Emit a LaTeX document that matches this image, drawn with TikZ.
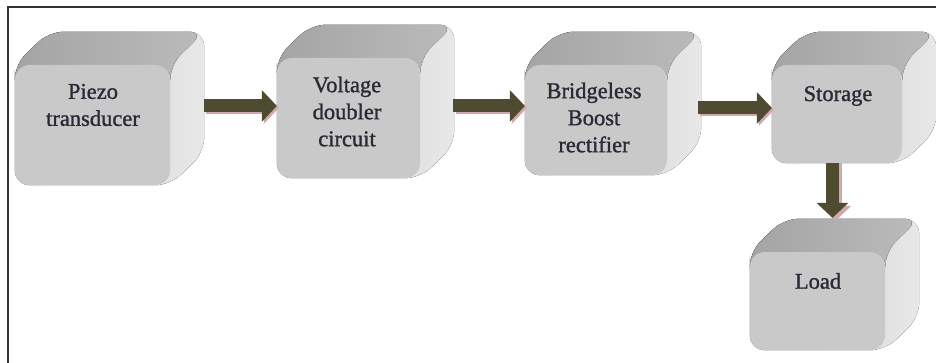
\documentclass[tikz,border=0pt]{standalone}
\usepackage{fontspec}
\setmainfont{Liberation Serif}
\newfontfamily\lblfont{Liberation Serif}[BoldFont={Liberation Serif}, BoldFeatures={FakeBold=1.2}]
\usetikzlibrary{arrows.meta}
\pgfdeclarelayer{bg}
\pgfdeclarelayer{background}
\pgfsetlayers{bg,background,main}
\definecolor{frontcol}{HTML}{C9C9C9}
\definecolor{topcol}{HTML}{A4A4A4}
\definecolor{topcolb}{HTML}{BBBBBB}
\definecolor{sidecol}{HTML}{E8E8E8}
\definecolor{sidecolb}{HTML}{CBCBCB}
\definecolor{arrcol}{HTML}{4F4B30}
\definecolor{shadcol}{HTML}{D2A8AC}
\definecolor{txtcol}{HTML}{2A2A36}
\definecolor{framecol}{HTML}{333333}
\tikzset{
  cube/.style={fill=frontcol, rounded corners=15pt, inner sep=0pt, draw=none},
  lbl/.style={align=center, text=txtcol, font=\lblfont\bfseries\fontsize{22.5}{27}\selectfont},
  arr/.style={draw=arrcol, line width=13pt, -{Triangle[width=31pt,length=15pt]}},
  arrshad/.style={draw=shadcol, line width=13pt, -{Triangle[width=31pt,length=15pt]}},
}
\newcommand{\mkcube}[1]{%
  \begin{pgfonlayer}{background}
    \fill[left color=sidecolb, right color=sidecol, rounded corners=15pt]
      (#1.south west) -- (#1.north west) -- ([shift={(34,-33)}]#1.north west)
      -- ([shift={(34,-33)}]#1.north east) -- ([shift={(34,-33)}]#1.south east)
      -- (#1.south east) -- cycle;
    \fill[left color=topcol, right color=topcolb, rounded corners=15pt]
      ([yshift=-20pt]#1.north west) -- (#1.north west) -- ([shift={(34,-33)}]#1.north west)
      -- ([shift={(34,-33)}]#1.north east) -- (#1.north east) -- ([yshift=-20pt]#1.north east) -- cycle;
  \end{pgfonlayer}}
\begin{document}
\begin{tikzpicture}[x=1pt,y=-1pt]
\useasboundingbox (0,0) rectangle (936,363);
\begin{pgfonlayer}{bg}
\fill[white] (0,0) rectangle (936,363);
\end{pgfonlayer}
% frame
\draw[framecol, line width=2pt] (8,363) -- (8,7) -- (936,7);
% boxes
\node[cube, minimum width=155pt, minimum height=120pt] (b1) at (92.5,125) {};
\node[cube, minimum width=143pt, minimum height=120pt] (b2) at (348.5,118) {};
\node[cube, minimum width=142pt, minimum height=110pt] (b3) at (596,120) {};
\node[cube, minimum width=130pt, minimum height=98pt] (b4) at (837,114) {};
\node[cube, minimum width=135pt, minimum height=98pt] (b5) at (817.5,301) {};
\mkcube{b1}\mkcube{b2}\mkcube{b3}\mkcube{b4}\mkcube{b5}
% labels
\node[lbl] (t1) at (93,105) {Piezo\\transducer};
\node[lbl] (t2) at (347,111.5) {Voltage\\doubler\\circuit};
\node[lbl] (t3) at (594,117.5) {Bridgeless\\Boost\\rectifier};
\node[lbl] (t4) at (838,96) {Storage};
\node[lbl] (t5) at (818,281) {Load};
% arrows (shadow then arrow)
\draw[arrshad] ([xshift=36pt]b1.east |- 0,108) -- ([xshift=2pt]b2.west |- 0,108);
\draw[arr] ([xshift=34pt]b1.east |- 0,106) -- (b2.west |- 0,106);
\draw[arrshad] ([xshift=36pt]b2.east |- 0,108) -- ([xshift=2pt]b3.west |- 0,108);
\draw[arr] ([xshift=33pt]b2.east |- 0,106) -- (b3.west |- 0,106);
\draw[arrshad] ([xshift=33pt]b3.east |- 0,110) -- ([xshift=2pt]b4.west |- 0,110);
\draw[arr] ([xshift=31pt]b3.east |- 0,108) -- (b4.west |- 0,108);
\draw[arrshad] (b4.south -| 835.5,0) -- ([yshift=31pt]b5.north -| 835.5,0);
\draw[arr] (b4.south -| 832.5,0) -- ([yshift=34pt]b5.north -| 832.5,0);
\end{tikzpicture}
\end{document}
